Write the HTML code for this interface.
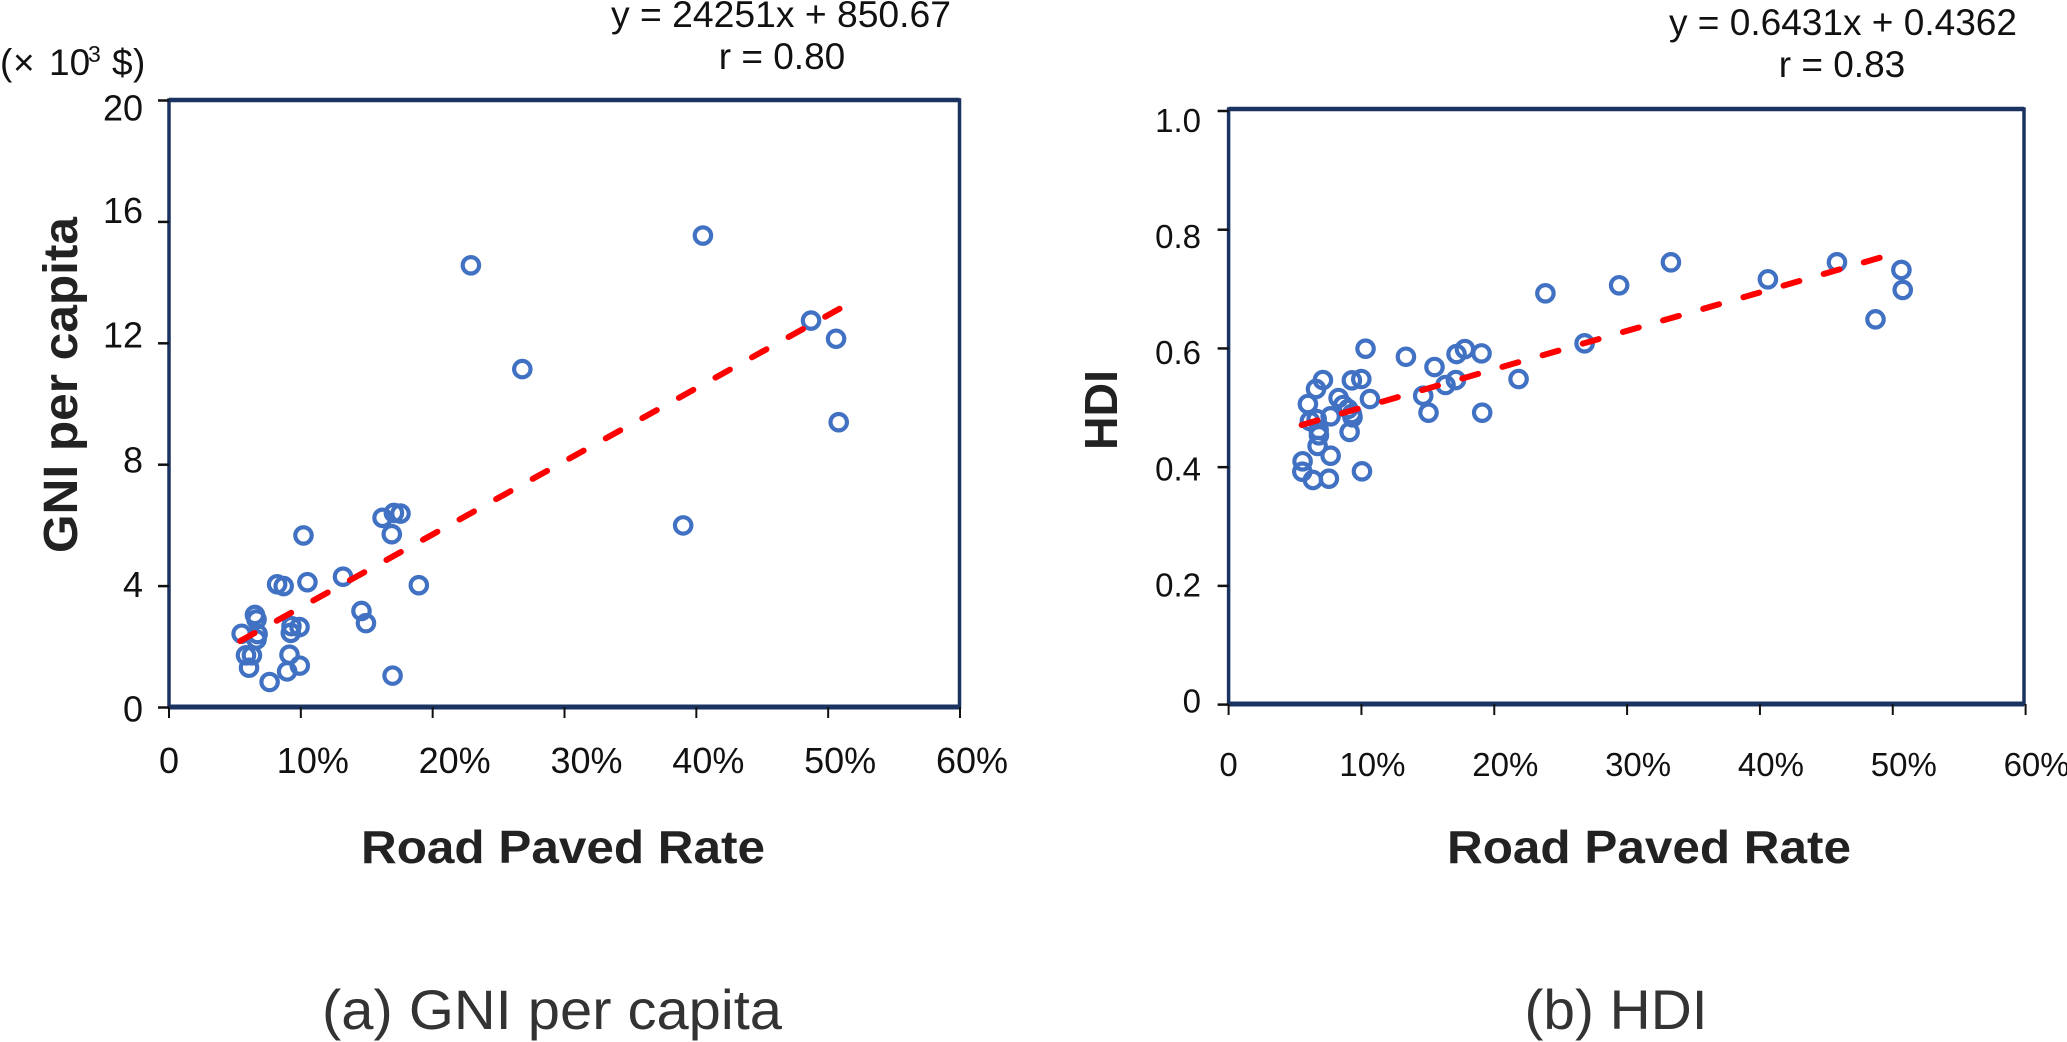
<!DOCTYPE html>
<html lang="en">
<head>
<meta charset="utf-8">
<title>Road Paved Rate correlations</title>
<style>
html,body{margin:0;padding:0;background:#fff;width:2067px;height:1042px;overflow:hidden}
svg{display:block}
text{font-family:"Liberation Sans",Arial,sans-serif}
.eq{font-size:37px;fill:#111;text-anchor:middle}
.tick{fill:#111}
.ax{font-size:46px;font-weight:bold;fill:#222;text-anchor:middle}
.cap{font-size:56px;fill:#333;text-anchor:middle}
</style>
</head>
<body>
<svg id="figure" width="2067" height="1042" viewBox="0 0 2067 1042" xmlns="http://www.w3.org/2000/svg">
  <text class="eq" x="781" y="27" textLength="340" lengthAdjust="spacingAndGlyphs">y = 24251x + 850.67</text>
  <text class="eq" x="782" y="69">r = 0.80</text>
  <text y="75" font-size="37" fill="#111"><tspan x="0">(</tspan><tspan x="13">×</tspan><tspan x="49">10</tspan><tspan x="88" y="62" font-size="23">3</tspan><tspan x="112" y="75">$</tspan><tspan x="133">)</tspan></text>
  <text class="ax" style="font-size:48px" transform="translate(77 385) rotate(-90)" textLength="336" lengthAdjust="spacingAndGlyphs">GNI per capita</text>
  <text class="ax" x="563" y="863" textLength="404" lengthAdjust="spacingAndGlyphs">Road Paved Rate</text>
  <text class="cap" x="552" y="1029" textLength="460" lengthAdjust="spacingAndGlyphs">(a) GNI per capita</text>

  <text class="eq" x="1843" y="35" textLength="348" lengthAdjust="spacingAndGlyphs">y = 0.6431x + 0.4362</text>
  <text class="eq" x="1842" y="77">r = 0.83</text>
  <text class="ax" transform="translate(1117 410) rotate(-90)" textLength="80" lengthAdjust="spacingAndGlyphs">HDI</text>
  <text class="ax" x="1649" y="863" textLength="404" lengthAdjust="spacingAndGlyphs">Road Paved Rate</text>
  <text class="cap" x="1616" y="1029" textLength="183" lengthAdjust="spacingAndGlyphs">(b) HDI</text>
</svg>
<script>
const xTickValues = [0, 10, 20, 30, 40, 50, 60];
const xTickLabels = ["0", "10%", "20%", "30%", "40%", "50%", "60%"];

const gniYTickValues = [0, 4, 8, 12, 16, 20];
const gniYTickLabels = ["0", "4", "8", "12", "16", "20"];
const gniX = [22.9, 40.5, 26.8, 48.7, 50.6, 50.8, 39.0, 10.2, 16.2, 17.06, 17.56, 16.9, 13.2, 10.5, 8.2, 8.7, 18.95, 14.6, 14.94, 16.96, 7.63, 8.96, 9.92, 9.14, 6.07, 5.84, 6.29, 5.51, 6.52, 6.64, 6.72, 6.64, 9.24, 9.29, 9.9];
const gniY = [14.57, 15.55, 11.15, 12.75, 12.15, 9.4, 6.0, 5.67, 6.25, 6.41, 6.39, 5.71, 4.31, 4.13, 4.06, 4.0, 4.03, 3.18, 2.78, 1.05, 0.84, 1.19, 1.38, 1.74, 1.31, 1.72, 1.72, 2.43, 3.05, 2.9, 2.42, 2.24, 2.46, 2.68, 2.65];
const gniTrendX = [5.4, 51.0];
const gniTrendY = [2.19, 13.17];

const hdiYTickValues = [0, 0.2, 0.4, 0.6, 0.8, 1.0];
const hdiYTickLabels = ["0", "0.2", "0.4", "0.6", "0.8", "1.0"];
const hdiX = [10.31, 13.35, 15.5, 17.16, 17.79, 19.04, 7.1, 6.58, 5.97, 9.28, 9.99, 10.64, 8.28, 8.63, 9.0, 9.28, 9.33, 9.11, 7.68, 6.12, 6.63, 6.78, 6.8, 6.7, 7.68, 5.57, 5.55, 6.35, 7.55, 10.04, 14.65, 15.05, 16.33, 17.11, 19.09, 21.83, 23.85, 26.8, 29.4, 33.3, 40.6, 45.8, 50.65, 50.75, 48.7];
const hdiY = [0.5996, 0.586, 0.5687, 0.5906, 0.599, 0.5917, 0.5468, 0.5317, 0.5064, 0.5463, 0.5485, 0.5148, 0.5165, 0.5047, 0.498, 0.4896, 0.484, 0.4593, 0.4857, 0.4778, 0.4811, 0.4626, 0.4537, 0.4357, 0.4193, 0.4099, 0.3924, 0.3784, 0.3806, 0.393, 0.5204, 0.4918, 0.5384, 0.5468, 0.4918, 0.5485, 0.6929, 0.6086, 0.7064, 0.7451, 0.7165, 0.7451, 0.7322, 0.6985, 0.649];
const hdiTrendX = [5.5, 49.3];
const hdiTrendY = [0.4711, 0.7546];

const svg = document.getElementById('figure');
const NS = 'http://www.w3.org/2000/svg';

function make(tag, attrs) {
  const node = document.createElementNS(NS, tag);
  for (const k in attrs) node.setAttribute(k, attrs[k]);
  svg.appendChild(node);
  return node;
}

function drawPanel(p) {
  const sx = v => p.x0 + v * (p.x60 - p.x0) / 60;
  const sy = v => p.y0 + v * (p.yTop - p.y0) / p.yMax;

  const frame = make('rect', {x: p.left, y: p.top, width: p.right - p.left, height: p.bottom - p.top, fill: '#fff', stroke: '#1b3360', 'stroke-width': 3.5});
  
  

  const topEdge = make('line', {x1: p.left, x2: p.right, y1: p.top, y2: p.top, stroke: '#1b3360', 'stroke-width': 4.5});
  
  

  const bottomEdge = make('line', {x1: p.left, x2: p.right, y1: p.bottom, y2: p.bottom, stroke: '#1b3360', 'stroke-width': 5});
  
  

  xTickValues.forEach((v, i) => {
    const tick = make('line', {x1: sx(v), x2: sx(v), y1: p.bottom, y2: p.bottom + 11, stroke: '#111', 'stroke-width': 2});
    
    
    const shift = v > 0 ? p.xLabelShift(v) : 0;
    const label = make('text', {x: sx(v) + shift, y: p.xLabelY, 'text-anchor': 'middle', 'font-size': p.tickFont, class: 'tick'});
    label.textContent = xTickLabels[i];
    
    
  });

  p.yTicks.forEach((v, i) => {
    const tick = make('line', {x1: p.left - 11, x2: p.left, y1: sy(v), y2: sy(v), stroke: '#111', 'stroke-width': 2.5});
    
    
    const label = make('text', {x: p.yLabelX, y: sy(v) + p.yLabelOffset(v), 'text-anchor': 'end', 'font-size': p.tickFont, class: 'tick'});
    label.textContent = p.yLabels[i];
    
    
  });

  p.xs.forEach((v, i) => {
    const pt = make('circle', {cx: sx(v), cy: sy(p.ys[i]), r: 8.2, fill: 'none', stroke: '#4171c2', 'stroke-width': 4.2});
    
    
  });

  const trend = make('line', {x1: sx(p.tx[0]), y1: sy(p.ty[0]), x2: sx(p.tx[1]), y2: sy(p.ty[1]), stroke: '#fe0000', 'stroke-width': 6, 'stroke-linecap': 'round', 'stroke-dasharray': '16.5 25.3'});
  
  
}

drawPanel({
  id: 'gni', left: 169, right: 959.5, top: 100, bottom: 707,
  x0: 169, x60: 960, y0: 707.5, yTop: 100.5, yMax: 20,
  yTicks: gniYTickValues, yLabels: gniYTickLabels,
  xs: gniX, ys: gniY, tx: gniTrendX, ty: gniTrendY,
  tickFont: 36, yLabelX: 143, xLabelY: 773,
  xLabelShift: v => (v === 20 || v === 30) ? 22 : 12,
  yLabelOffset: v => v === 20 ? 20 : 1 + (16 - v) * 0.82
});

drawPanel({
  id: 'hdi', left: 1228.6, right: 2024, top: 109, bottom: 704,
  x0: 1228.6, x60: 2025.6, y0: 704.6, yTop: 111, yMax: 1,
  yTicks: hdiYTickValues, yLabels: hdiYTickLabels,
  xs: hdiX, ys: hdiY, tx: hdiTrendX, ty: hdiTrendY,
  tickFont: 33, yLabelX: 1201, xLabelY: 776,
  xLabelShift: v => 11,
  yLabelOffset: v => 8 + v * 13
});
</script>
</body>
</html>
